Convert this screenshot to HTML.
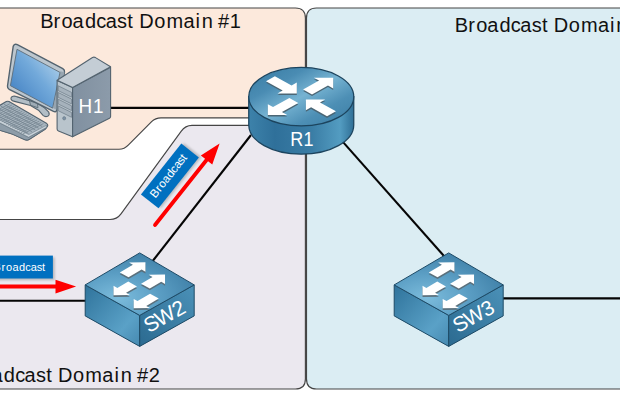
<!DOCTYPE html>
<html><head><meta charset="utf-8">
<style>
html,body{margin:0;padding:0;background:#fff;width:620px;height:400px;overflow:hidden}
svg{display:block}
text{font-family:"Liberation Sans",sans-serif}
</style></head><body>
<svg width="620" height="400" viewBox="0 0 620 400">
<defs>
<filter id="blur1" x="-20%" y="-40%" width="140%" height="180%"><feGaussianBlur stdDeviation="1.1"/></filter>
<linearGradient id="scr" x1="0" y1="1" x2="1" y2="0">
<stop offset="0" stop-color="#3777bd"/><stop offset="0.55" stop-color="#72a9da"/><stop offset="1" stop-color="#c3ddf0"/>
</linearGradient>
<linearGradient id="rtop" x1="0" y1="0" x2="1" y2="1">
<stop offset="0" stop-color="#367aa2"/><stop offset="0.28" stop-color="#4a8cb3"/><stop offset="0.5" stop-color="#76b3d2"/><stop offset="0.72" stop-color="#4d8fb5"/><stop offset="1" stop-color="#3a7ca3"/>
</linearGradient>
<linearGradient id="rside" x1="0" y1="0" x2="1" y2="0">
<stop offset="0" stop-color="#3d82aa"/><stop offset="0.25" stop-color="#2f709a"/><stop offset="0.6" stop-color="#3a7da5"/><stop offset="0.87" stop-color="#539cc1"/><stop offset="1" stop-color="#2f6f96"/>
</linearGradient>
<radialGradient id="swT" cx="0.3" cy="0.72" r="0.85">
<stop offset="0" stop-color="#7cbcdc"/><stop offset="0.45" stop-color="#5b9ec4"/><stop offset="1" stop-color="#3878a0"/>
</radialGradient>
<linearGradient id="swL" x1="0" y1="0" x2="1" y2="1">
<stop offset="0" stop-color="#2f739b"/><stop offset="0.7" stop-color="#5aa1c7"/><stop offset="1" stop-color="#4689b0"/>
</linearGradient>
<linearGradient id="swR" x1="0" y1="1" x2="1" y2="0">
<stop offset="0" stop-color="#2b6a90"/><stop offset="1" stop-color="#4b91b8"/>
</linearGradient>
<linearGradient id="twS" x1="0" y1="0" x2="1" y2="0">
<stop offset="0" stop-color="#8090a0"/><stop offset="1" stop-color="#8c9baa"/>
</linearGradient>
</defs>
<!-- domain areas -->
<path d="M-5,8 H295.4 Q305.4,8 305.4,18 V117.9 H161 Q155.4,117.9 151.6,121.7 L128.5,144.8 Q124.4,149.2 119,149.2 H-5 Z" fill="#fce9dc" stroke="#454545" stroke-width="1.15"/>
<path d="M306.5,18 Q306.5,8 316.5,8 H630 V389 H316.5 Q306.5,389 306.5,379 Z" fill="#dbedf3" stroke="#454545" stroke-width="1.15"/>
<path d="M192,125.4 H305.4 V379 Q305.4,389 295.4,389 H-5 V219.5 H109.9 Q116.9,219.5 121,213.8 L181.1,131.3 Q185.3,125.4 192,125.4 Z" fill="#ebe8ef" stroke="#454545" stroke-width="1.15"/>
<!-- titles -->
<text x="40.19 53.57 61.59 72.61 84.96 96.24 105.71 117.08 127.34 139.14 154.19 166.47 183.41 195.48 201.77 218.04 229.67" y="27.7" font-size="20" fill="#111">BroadcastDomain#1</text>
<text x="454.79 468.17 476.19 487.21 499.56 510.84 520.31 531.68 541.94 553.74 568.79 581.07 598.01 610.08 616.37 632.64 644.60" y="31.8" font-size="20" fill="#111">BroadcastDomain#3</text>
<text x="-40.91 -27.53 -19.51 -8.49 3.86 15.14 24.61 35.98 46.24 58.04 73.09 85.37 102.31 114.38 120.67 136.94 148.84" y="381.5" font-size="20" fill="#111">BroadcastDomain#2</text>
<!-- links -->
<g stroke="#050505" stroke-width="2.1" fill="none">
<line x1="108" y1="107.9" x2="260" y2="107.9"/>
<line x1="251" y1="135" x2="152.3" y2="261.5"/>
<line x1="-5" y1="300.7" x2="90" y2="300.7"/>
<line x1="341.1" y1="139.9" x2="444.4" y2="256.5"/>
<line x1="500" y1="298.4" x2="630" y2="298.4"/>
</g>
<!-- broadcast labels -->
<g>
<rect x="-10.3" y="257.4" width="65" height="22.9" fill="#b9b9be" filter="url(#blur1)"/>
<rect x="-12.1" y="255.6" width="65" height="22.9" fill="#0070c0"/>
<text x="-6.63 1.44 6.04 12.56 19.06 25.16 30.86 36.70 41.93" y="270.6" font-size="11" fill="#fff">Broadcast</text>
<path d="M-5,284.6 H55.5 V279.75 L76.1,286.6 L55.5,293.6 V288.4 H-5 Z" fill="#ff0000"/>
</g>
<g transform="translate(169.9,175.9) rotate(-51.6)">
<rect x="-30.7" y="-9.4" width="65" height="22.4" fill="#b9b9be" filter="url(#blur1)"/>
<rect x="-32.5" y="-11.2" width="65" height="22.4" fill="#0070c0"/>
<text x="-27.04 -18.87 -14.33 -7.82 -1.30 4.81 10.48 16.35 21.64" y="2.6" font-size="11.6" fill="#fff">Broadcast</text>
</g>
<g transform="translate(155,225) rotate(-51.6)">
<path d="M0,-1.9 H83 V-7.3 L104,0 L83,7.3 V1.9 H0 A1.9,1.9 0 0 1 0,-1.9 Z" fill="#ff0000"/>
</g>
<!-- H1 computer -->
<g id="h1" stroke-linejoin="round">
<!-- stand -->
<path d="M13.2,96.2 Q10.2,97 11.2,99.6 Q12,100.8 14.5,101.4 L30.5,105.5 L38.5,110.2 L43,115.3 Q45,117.2 47.6,116.3 Q50,115 48.8,112.2 L44.5,107.8 L36,102.6 L16.5,96.6 Q14.8,96 13.2,96.2 Z" fill="#b3bec6" stroke="#53636f" stroke-width="1.1" stroke-linejoin="round"/>
<path d="M29.5,100.8 L37.5,103.5 L38,107.8 L30.5,105.2 Z" fill="#9eabb5" stroke="#53636f" stroke-width="0.8"/>
<!-- monitor -->
<path d="M17.3,44.6 L62.8,68.6 Q64.9,69.8 64.5,72 L56.8,109.8 Q56.1,112.6 53.5,111.4 L9.2,89.4 Q7.2,88.3 7.5,86 L13.2,46.4 Q14.6,43.3 17.3,44.6 Z" fill="#bcc6ce" stroke="#53636f" stroke-width="1.4"/>
<path d="M60.3,71.3 L64.4,72.2 L56.8,109.8 L53.2,108.2 Z" fill="#97a5b0"/>
<polygon points="17,49.3 60,72.4 52.6,108.1 10.4,85.7" fill="url(#scr)" stroke="#5d6d79" stroke-width="0.9"/>
<!-- keyboard -->
<path d="M-3,107 L6.3,101.6 Q7.6,100.9 9,101.6 L46.8,123.6 Q48.4,124.8 47.3,126.6 L45.5,129 L29.5,139.2 Q27.5,140.6 25,139.8 Q12,133 -3,129.5 Z" fill="#a7b4be" stroke="#53636f" stroke-width="1.1" stroke-linejoin="round"/>
<path d="M-3,121.5 L28.6,137.2 L46.3,127.6 L45.5,129 L29.5,139.2 Q27.5,140.6 25,139.8 Q12,133 -3,129.5 Z" fill="#8d9ca8" stroke="#53636f" stroke-width="0.8" stroke-linejoin="round"/>
<path d="M-3,118.5 L28.8,134.6 L46.5,125.2 L46.3,127.6 L28.6,137.2 L-3,121.5 Z" fill="#c9d2d9" stroke="#6d7d89" stroke-width="0.6" stroke-linejoin="round"/>
<path d="M4.17,104.33 L42.17,126.53 M0.73,106.07 L38.73,128.27 M-2.70,107.80 L35.30,130.00 M-6.13,109.53 L31.87,131.73 M-9.57,111.27 L28.43,133.47 M9.71,103.83 L-10.89,114.23 M11.82,105.07 L-8.78,115.47 M13.93,106.30 L-6.67,116.70 M16.04,107.53 L-4.56,117.93 M18.16,108.77 L-2.44,119.17 M20.27,110.00 L-0.33,120.40 M22.38,111.23 L1.78,121.63 M24.49,112.47 L3.89,122.87 M26.60,113.70 L6.00,124.10 M28.71,114.93 L8.11,125.33 M30.82,116.17 L10.22,126.57 M32.93,117.40 L12.33,127.80 M35.04,118.63 L14.44,129.03 M37.16,119.87 L16.56,130.27 M39.27,121.10 L18.67,131.50 M41.38,122.33 L20.78,132.73 M43.49,123.57 L22.89,133.97" fill="none" stroke="#72828e" stroke-width="0.75"/>
<!-- tower -->
<path d="M57.1,80.5 L72.6,87.5 L72.6,136.7 L58.5,131 Q57.1,130.3 57.1,129 Z" fill="#b9c4cc" stroke="#53636f" stroke-width="1.1"/>
<path d="M72.6,87.5 L110.6,67.3 L110.6,116.5 Q110.6,117.7 109.5,118.3 L72.6,136.7 Z" fill="url(#twS)" stroke="#53636f" stroke-width="1.1"/>
<path d="M92.5,57.5 Q94,56.8 95.5,57.6 L110.6,66.8 L72.6,87.5 L57.1,80.2 Z" fill="#c4cdd5" stroke="#53636f" stroke-width="1.1"/>
<g fill="#a6b2bc" stroke="#677783" stroke-width="0.65">
<path d="M58.2,85.80 L71.6,92.40 L71.6,97.20 L58.2,90.60 Z"/>
<path d="M58.2,92.50 L71.6,99.10 L71.6,103.90 L58.2,97.30 Z"/>
<path d="M58.2,99.20 L71.6,105.80 L71.6,110.60 L58.2,104.00 Z"/>
<path d="M58.2,105.90 L71.6,112.50 L71.6,117.30 L58.2,110.70 Z"/>
</g>
<ellipse cx="64.2" cy="118.3" rx="1.5" ry="1.7" fill="#7d92a6" stroke="#5f6f7b" stroke-width="0.5"/>
<g transform="matrix(0.9,0,0,1,9.200,0)"><text x="77.08 93.21" y="112.7" font-size="21" fill="#fff">H1</text></g>
</g>
<!-- router -->
<g id="r1">
<path d="M248.75,96.7 V124.9 A52.5,29.3 0 0 0 353.75,124.9 V96.7 Z" fill="url(#rside)" stroke="#1c445e" stroke-width="1.25"/>
<ellipse cx="301.25" cy="96.7" rx="52.5" ry="29.3" fill="url(#rtop)" stroke="#1c445e" stroke-width="1.25"/>
<polygon points="265.98,81.16 282.69,90.48 277.49,93.39 296.80,93.39 296.80,82.61 291.60,85.51 274.89,76.19" fill="#4b6675" transform="translate(0,1.6)"/><polygon points="265.98,81.16 282.69,90.48 277.49,93.39 296.80,93.39 296.80,82.61 291.60,85.51 274.89,76.19" fill="#fff"/><polygon points="303.11,89.45 319.07,80.54 313.87,77.64 333.18,77.64 333.18,88.41 327.98,85.51 312.02,94.42" fill="#4b6675" transform="translate(0,1.6)"/><polygon points="303.11,89.45 319.07,80.54 313.87,77.64 333.18,77.64 333.18,88.41 327.98,85.51 312.02,94.42" fill="#fff"/><polygon points="289.37,97.94 273.04,107.06 267.84,104.16 267.84,114.93 287.14,114.93 281.95,112.03 298.28,102.92" fill="#4b6675" transform="translate(0,1.6)"/><polygon points="289.37,97.94 273.04,107.06 267.84,104.16 267.84,114.93 287.14,114.93 281.95,112.03 298.28,102.92" fill="#fff"/><polygon points="327.05,116.28 311.09,107.37 305.89,110.27 305.89,99.50 325.19,99.50 320.00,102.40 335.96,111.31" fill="#4b6675" transform="translate(0,1.6)"/><polygon points="327.05,116.28 311.09,107.37 305.89,110.27 305.89,99.50 325.19,99.50 320.00,102.40 335.96,111.31" fill="#fff"/>
<g transform="matrix(0.88,0,0,1,36.345,0)"><text x="288.43 303.57" y="146.2" font-size="20.5" fill="#fff">R1</text></g>
</g>
<polygon points="85.2,284.9 139.7,315.4 139.7,346.4 85.2,315.9" fill="url(#swL)" stroke="#1d4a66" stroke-width="1" stroke-linejoin="round"/>
<polygon points="139.7,315.4 194.2,284.9 194.2,315.9 139.7,346.4" fill="url(#swR)" stroke="#1d4a66" stroke-width="1" stroke-linejoin="round"/>
<polygon points="139.7,252.9 194.2,284.9 139.7,315.4 85.2,284.9" fill="url(#swT)" stroke="#1d4a66" stroke-width="1" stroke-linejoin="round"/>
<polygon points="119.81,272.39 132.89,264.71 129.07,262.58 145.42,262.35 145.42,271.73 141.61,269.59 128.53,277.27" fill="#5b707c" transform="translate(0,1.8)"/>
<polygon points="119.81,272.39 132.89,264.71 129.07,262.58 145.42,262.35 145.42,271.73 141.61,269.59 128.53,277.27" fill="#ffffff"/>
<polygon points="128.25,281.50 117.36,287.89 113.54,285.76 113.54,295.13 129.89,294.91 126.08,292.77 136.98,286.38" fill="#5b707c" transform="translate(0,1.8)"/>
<polygon points="128.25,281.50 117.36,287.89 113.54,285.76 113.54,295.13 129.89,294.91 126.08,292.77 136.98,286.38" fill="#ffffff"/>
<polygon points="141.06,283.66 152.51,276.94 148.69,274.81 165.04,274.58 165.04,283.96 161.23,281.82 149.78,288.54" fill="#5b707c" transform="translate(0,1.8)"/>
<polygon points="141.06,283.66 152.51,276.94 148.69,274.81 165.04,274.58 165.04,283.96 161.23,281.82 149.78,288.54" fill="#ffffff"/>
<polygon points="150.06,293.69 137.52,301.05 133.70,298.92 133.71,308.29 150.06,308.07 146.24,305.94 158.78,298.57" fill="#5b707c" transform="translate(0,1.8)"/>
<polygon points="150.06,293.69 137.52,301.05 133.70,298.92 133.71,308.29 150.06,308.07 146.24,305.94 158.78,298.57" fill="#ffffff"/>
<g transform="translate(165.00,316.00) rotate(-29.23)"><text x="-22.65 -9.92 9.81" y="7.2" font-size="21" fill="#fff">SW2</text></g>
<polygon points="394.2,284.9 448.7,315.4 448.7,346.4 394.2,315.9" fill="url(#swL)" stroke="#1d4a66" stroke-width="1" stroke-linejoin="round"/>
<polygon points="448.7,315.4 503.2,284.9 503.2,315.9 448.7,346.4" fill="url(#swR)" stroke="#1d4a66" stroke-width="1" stroke-linejoin="round"/>
<polygon points="448.7,252.9 503.2,284.9 448.7,315.4 394.2,284.9" fill="url(#swT)" stroke="#1d4a66" stroke-width="1" stroke-linejoin="round"/>
<polygon points="428.81,272.39 441.89,264.71 438.07,262.58 454.42,262.35 454.42,271.73 450.61,269.59 437.53,277.27" fill="#5b707c" transform="translate(0,1.8)"/>
<polygon points="428.81,272.39 441.89,264.71 438.07,262.58 454.42,262.35 454.42,271.73 450.61,269.59 437.53,277.27" fill="#ffffff"/>
<polygon points="437.25,281.50 426.36,287.89 422.54,285.76 422.54,295.13 438.89,294.91 435.07,292.77 445.98,286.38" fill="#5b707c" transform="translate(0,1.8)"/>
<polygon points="437.25,281.50 426.36,287.89 422.54,285.76 422.54,295.13 438.89,294.91 435.07,292.77 445.98,286.38" fill="#ffffff"/>
<polygon points="450.06,283.66 461.51,276.94 457.69,274.81 474.04,274.58 474.04,283.96 470.23,281.82 458.78,288.54" fill="#5b707c" transform="translate(0,1.8)"/>
<polygon points="450.06,283.66 461.51,276.94 457.69,274.81 474.04,274.58 474.04,283.96 470.23,281.82 458.78,288.54" fill="#ffffff"/>
<polygon points="459.06,293.69 446.52,301.05 442.70,298.92 442.70,308.29 459.05,308.07 455.24,305.94 467.77,298.57" fill="#5b707c" transform="translate(0,1.8)"/>
<polygon points="459.06,293.69 446.52,301.05 442.70,298.92 442.70,308.29 459.05,308.07 455.24,305.94 467.77,298.57" fill="#ffffff"/>
<g transform="translate(474.00,316.00) rotate(-29.23)"><text x="-22.65 -9.92 9.87" y="7.2" font-size="21" fill="#fff">SW3</text></g>
</svg>
</body></html>
